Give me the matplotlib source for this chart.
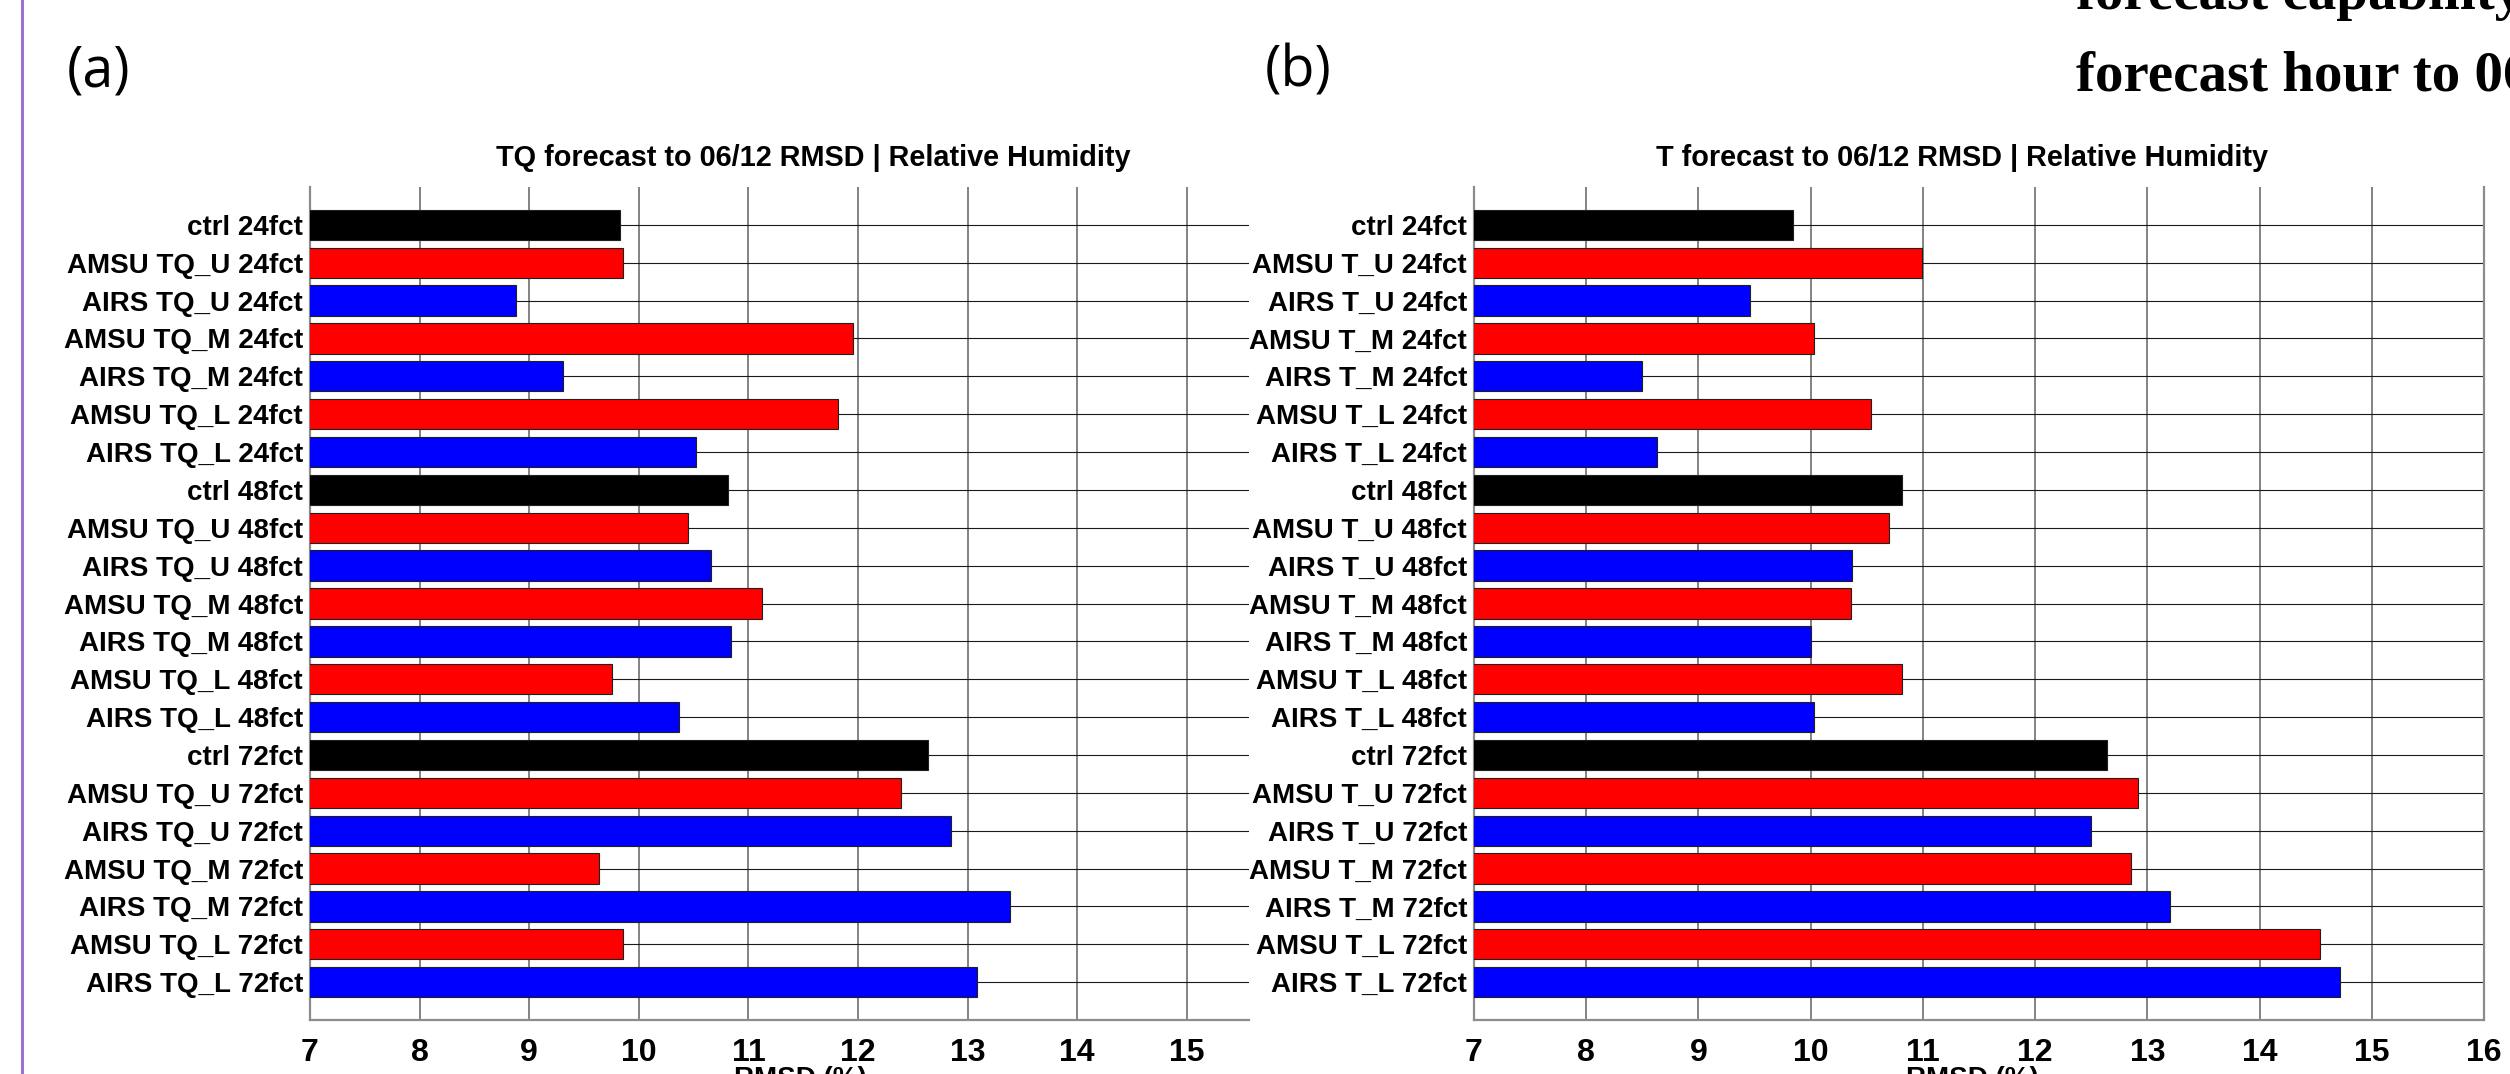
import matplotlib.pyplot as plt
from matplotlib.lines import Line2D
import numpy as np

plt.rcParams['font.family'] = ['Liberation Sans', 'DejaVu Sans']
plt.rcParams['font.weight'] = 'bold'

# row labels, top to bottom
labels_a = ["ctrl 24fct", "AMSU TQ_U 24fct", "AIRS TQ_U 24fct", "AMSU TQ_M 24fct",
            "AIRS TQ_M 24fct", "AMSU TQ_L 24fct", "AIRS TQ_L 24fct",
            "ctrl 48fct", "AMSU TQ_U 48fct", "AIRS TQ_U 48fct", "AMSU TQ_M 48fct",
            "AIRS TQ_M 48fct", "AMSU TQ_L 48fct", "AIRS TQ_L 48fct",
            "ctrl 72fct", "AMSU TQ_U 72fct", "AIRS TQ_U 72fct", "AMSU TQ_M 72fct",
            "AIRS TQ_M 72fct", "AMSU TQ_L 72fct", "AIRS TQ_L 72fct"]
labels_b = [s.replace("TQ_", "T_") for s in labels_a]

# RMSD values
rmsd_a = [9.83, 9.86, 8.88, 11.95, 9.31, 11.82, 10.52,
          10.81, 10.45, 10.66, 11.12, 10.84, 9.76, 10.37,
          12.64, 12.39, 12.85, 9.64, 13.39, 9.86, 13.09]
rmsd_b = [9.84, 10.99, 9.46, 10.03, 8.50, 10.54, 8.63,
          10.81, 10.70, 10.37, 10.36, 10.00, 10.81, 10.03,
          12.64, 12.92, 12.50, 12.85, 13.20, 14.54, 14.72]

kinds = ["ctrl", "AMSU", "AIRS", "AMSU", "AIRS", "AMSU", "AIRS"] * 3
kind_color = {"ctrl": "#000000", "AMSU": "#ff0000", "AIRS": "#0000ff"}

W, H = 2510, 1074
fig = plt.figure(figsize=(W / 100, H / 100), dpi=100)


def box(l, t, r, b):
    return [l / W, 1 - b / H, (r - l) / W, (b - t) / H]


def draw_panel(ax, labels, vals, xmax, right_spine):
    y = np.arange(len(labels))
    cols = [kind_color[k] for k in kinds]
    ax.barh(y, vals, height=0.8, color=cols, edgecolor="#202020",
            linewidth=0.8, zorder=3)
    ax.set_xticks(np.arange(7, 17))
    ax.set_yticks(y)
    ax.set_yticklabels(labels)
    ax.set_xlim(7, xmax)
    ax.set_ylim(len(labels), -1)
    ax.grid(axis="x", color="#7a7a7a", linewidth=1.3, zorder=1)
    ax.grid(axis="y", color="#1a1a1a", linewidth=0.8, zorder=1)
    ax.tick_params(axis="both", length=0)
    ax.tick_params(axis="x", pad=13, labelsize=23)
    ax.tick_params(axis="y", pad=5, labelsize=20)
    ax.spines["top"].set_visible(False)
    ax.spines["right"].set_visible(right_spine)
    for s in ["left", "bottom", "right"]:
        ax.spines[s].set_color("#8c8c8c")
        ax.spines[s].set_linewidth(1.6)


ax_a = fig.add_axes(box(310, 187, 1249, 1020))
draw_panel(ax_a, labels_a, rmsd_a, 7 + (1249 - 310) / 109.6, False)
ax_b = fig.add_axes(box(1474, 187, 2484, 1020))
draw_panel(ax_b, labels_b, rmsd_b, 16, True)

fig.text(813 / W, 1 - 158 / H, "TQ forecast to 06/12 RMSD | Relative Humidity",
         ha="center", va="center", fontsize=20.8)
fig.text(1962 / W, 1 - 158 / H, "T forecast to 06/12 RMSD | Relative Humidity",
         ha="center", va="center", fontsize=20.8)

# x axis titles, cut by the bottom edge
fig.text(800 / W, 1 - 1066 / H, "RMSD (%)", ha="center", va="top", fontsize=20)
fig.text(1972 / W, 1 - 1066 / H, "RMSD (%)", ha="center", va="top", fontsize=20)

fig.text(67 / W, 1 - 72 / H, "(a)", family="Open Sans", fontweight="normal",
         fontsize=40, ha="left", va="center")
fig.text(1265 / W, 1 - 72 / H, "(b)", family="Open Sans", fontweight="normal",
         fontsize=40, ha="left", va="center")

fig.text(2076 / W, 1 - 9 / H, "forecast capability", family="Liberation Serif",
         fontweight="bold", fontsize=41, ha="left", va="baseline")
fig.text(2076 / W, 1 - 91 / H, "forecast hour to 06", family="Liberation Serif",
         fontweight="bold", fontsize=41, ha="left", va="baseline")

fig.add_artist(Line2D([22 / W, 22 / W], [0, 1], color="#9c72d0", linewidth=2.2))

fig.savefig("out.png", dpi=100)
